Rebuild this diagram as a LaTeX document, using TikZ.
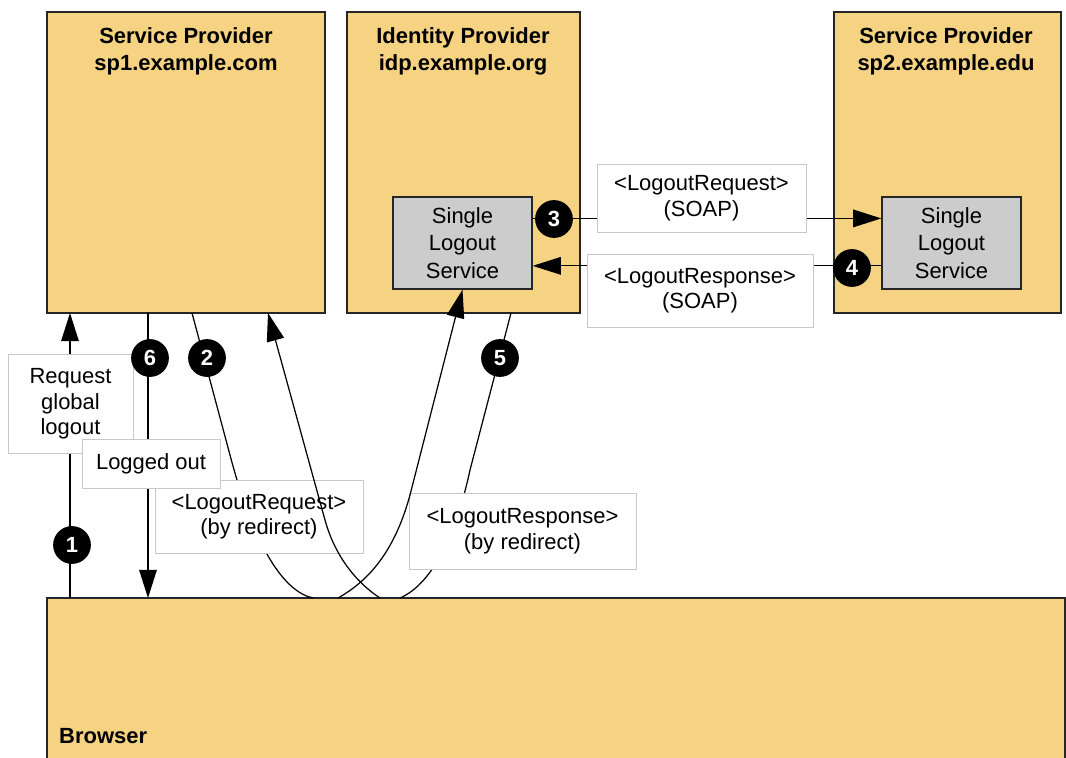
\documentclass[tikz,border=0pt]{standalone}
\usepackage{fontspec}
\setmainfont{Liberation Sans}
\usetikzlibrary{arrows.meta, fit}
\definecolor{boxfill}{RGB}{246,211,131}
\definecolor{slsfill}{RGB}{204,204,204}
\definecolor{lblline}{RGB}{200,200,200}
\tikzset{
  pbox/.style={draw=black!85, line width=0.8pt, fill=boxfill, inner sep=0pt},
  slsbox/.style={pbox, fill=slsfill, align=center, minimum width=2.78cm, minimum height=1.84cm, font=\fontsize{12.5}{15.5}\selectfont},
  title/.style={align=center, font=\fontsize{12.5}{15.5}\selectfont\bfseries},
  lbl/.style={draw=lblline, line width=0.5pt, fill=white, align=center, inner sep=0pt, font=\fontsize{12.5}{14.5}\selectfont},
  badge/.style={circle, fill=black, text=white, minimum size=21.5pt, inner sep=0pt, font=\fontsize{12.5}{12.5}\selectfont\bfseries},
  msg/.style={line width=0.7pt},
  arr/.style={msg, -{Triangle[length=16pt, width=10pt]}},
}
\begin{document}
\begin{tikzpicture}[x=0.02cm, y=-0.02cm]
\useasboundingbox (0,0) rectangle (1066,758);
% parties
\node[pbox, fit={(47,12) (325,313)}] (sp1) {};
\node[pbox, fit={(347,12) (580,313)}] (idp) {};
\node[pbox, fit={(834,12) (1061,313)}] (sp2) {};
\node[pbox, fit={(47,598) (1065,775)}] (browser) {};
\node[title] (sp1t) at (186,51) {Service Provider\\sp1.example.com};
\node[title] (idpt) at (463,51) {Identity Provider\\idp.example.org};
\node[title] (sp2t) at (946,51) {Service Provider\\sp2.example.edu};
\node[title, anchor=west] (brt) at (53,736) {Browser};
\node[slsbox] (idpsls) at (462.5,243) {Single\\Logout\\Service};
\node[slsbox] (sp2sls) at (951.5,243) {Single\\Logout\\Service};
% ports
\foreach \n/\x in {a/70, b/148, c/192, d/268} \coordinate (sp1-\n) at (\x,313);
\foreach \n/\x in {a/70, b/148, c/313, d/338, e/380, f/400} \coordinate (br-\n) at (\x,598);
\coordinate (idp-out) at (511,313);
% back channel
\draw[arr] ([yshift=14pt]idpsls.east) -- ([yshift=14pt]sp2sls.west);
\draw[arr] ([yshift=-13pt]sp2sls.west) -- ([yshift=-13pt]idpsls.east);
% front channel
\draw[arr] (br-a) -- (sp1-a);
\draw[arr] (sp1-b) -- (br-b);
\draw[msg] (sp1-c) -- (230,455) .. controls (255,550) and (285,592) .. (br-c);
\draw[msg] (idp-out) -- (470,470) .. controls (455,540) and (430,585) .. (br-f);
% labels
\node[lbl, minimum width=4.18cm, minimum height=1.36cm] (soapreq) at (701.5,198) {<LogoutRequest>\\(SOAP)};
\node[lbl, minimum width=4.52cm, minimum height=1.46cm] (soapresp) at (700,290.5) {<LogoutResponse>\\(SOAP)};
\node[lbl, minimum width=2.5cm, minimum height=1.98cm] (reqglobal) at (70.5,404) {Request\\global\\logout};
\node[lbl, minimum width=4.16cm, minimum height=1.46cm] (reqredir) at (259,516.5) {<LogoutRequest>\\(by redirect)};
\node[lbl, minimum width=4.54cm, minimum height=1.52cm] (respredir) at (522.5,531) {<LogoutResponse>\\(by redirect)};
\node[lbl, minimum width=2.76cm, minimum height=0.98cm] (loggedout) at (151,463.5) {Logged out};
\draw[arr] (br-d) .. controls (370,580) and (395,550) .. (410,495) -- (idpsls.south);
\draw[arr] (br-e) .. controls (360,585) and (336,560) .. (325,520) -- (sp1-d);
% steps
\node[badge] (s1) at (72,545) {1};
\node[badge] (s2) at (207,358) {2};
\node[badge] (s3) at (554,219) {3};
\node[badge] (s4) at (852,268) {4};
\node[badge] (s5) at (500,358) {5};
\node[badge] (s6) at (150,358) {6};
\end{tikzpicture}
\end{document}
